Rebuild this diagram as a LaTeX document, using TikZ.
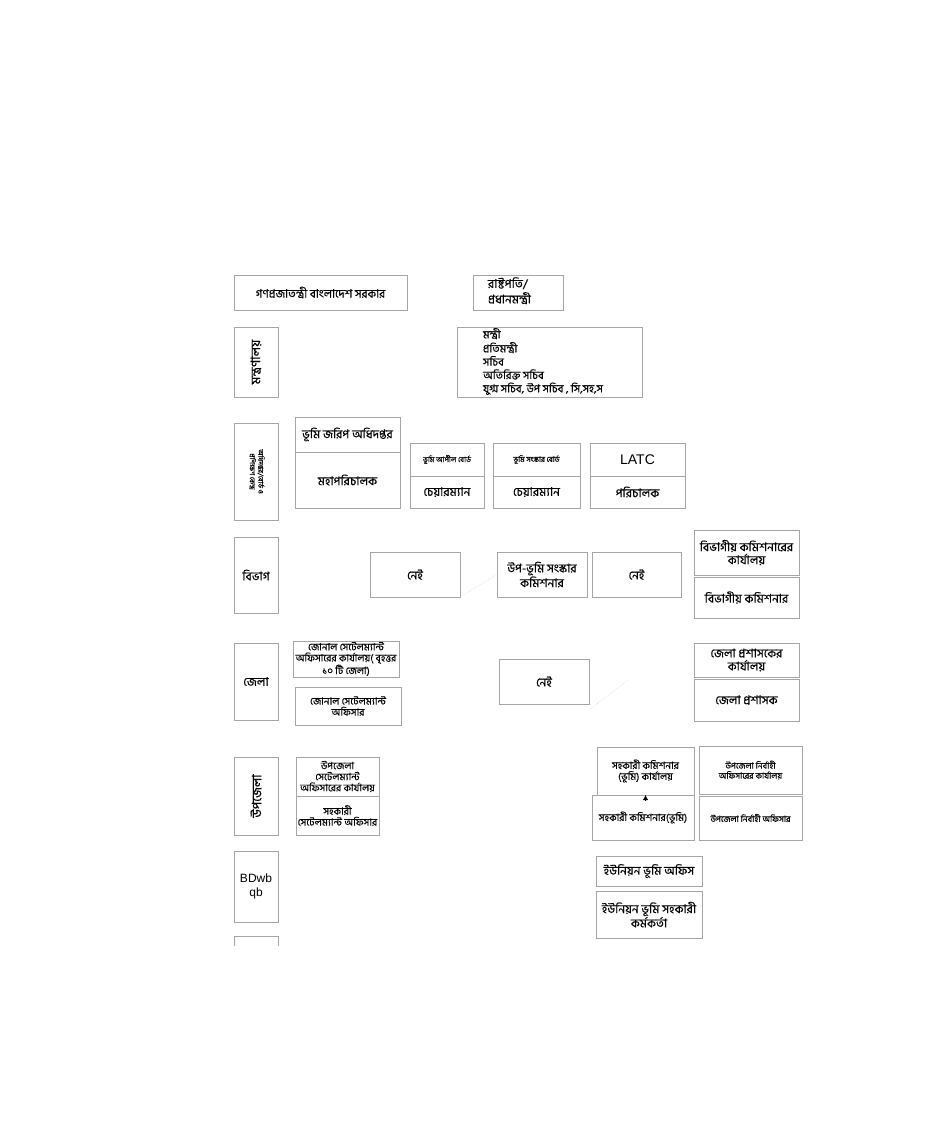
\documentclass[tikz,border=0pt]{standalone}
\usepackage{fontspec}
\usepackage{graphicx}
\usetikzlibrary{arrows.meta}
\setmainfont{Liberation Sans}
\newfontfamily\bn[Script=Bengali,FakeBold=0.4]{Hind Siliguri}
\newcommand{\rb}[7][]{\node[box,#1,minimum width={(#5-#3)*1pt},minimum height={(#6-#4)*1pt}] (#2) at ({(#3+#5)/2},{(#4+#6)/2}) {#7};}
\tikzset{
  box/.style={draw=gray!70, line width=0.7pt, inner sep=1pt, outer sep=0pt, align=center, font=\bn\fontsize{12}{13}\selectfont},
  sm/.style={font=\bn\fontsize{7.5}{9}\selectfont},
  sn/.style={font=\bn\fontsize{8.5}{10}\selectfont},
  md/.style={font=\bn\fontsize{10}{11}\selectfont},
  faint/.style={draw=gray!35, densely dotted, line width=0.5pt}
}
\begin{document}
\begin{tikzpicture}[x=1pt,y=-1pt]
\useasboundingbox (0,0) rectangle (938,1132);
% row 1
\rb[font=\bn\fontsize{11.5}{13}\selectfont]{gov}{234}{275}{407}{310}{গণপ্রজাতন্ত্রী বাংলাদেশ সরকার}
\rb[font=\bn\fontsize{12}{14.5}\selectfont]{pm}{474}{275}{562}{310}{\makebox[88pt][l]{\hspace{14pt}\begin{tabular}{@{}l@{}}রাষ্টপতি/\\প্রধানমন্ত্রী\end{tabular}}}
% row 2
\rb[font=\bn\fontsize{13}{14}\selectfont]{min}{234}{327}{278}{397}{\rotatebox{90}{মন্ত্রণালয়}}
\rb[font=\bn\fontsize{11}{12.2}\selectfont]{minl}{458}{327}{641}{397}{\makebox[183pt][l]{\hspace{25pt}\begin{tabular}{@{}l@{}}মন্ত্রী\\প্রতিমন্ত্রী\\সচিব\\অতিরিক্ত সচিব\\যুগ্ম সচিব, উপ সচিব , সি,সহ,স\end{tabular}}}
% row 3
\rb[font=\bn\fontsize{7}{8}\selectfont]{dept}{234}{423}{278}{520}{\rotatebox{-90}{\begin{tabular}{@{}c@{}}অধিদপ্তর/বোর্ড ও\\প্রশিক্ষণ কেন্দ্র\end{tabular}}}
\rb{jr}{295}{417}{400}{452}{ভূমি জরিপ অধিদপ্তর}
\rb{dg}{295}{452}{400}{508}{মহাপরিচালক}
\rb[sm]{ab}{410}{443}{484}{476}{ভূমি আপীল বোর্ড}
\rb{abc}{410}{476}{484}{508}{চেয়ারম্যান}
\rb[sm]{sb}{493}{443}{580}{476}{ভূমি সংস্কার বোর্ড}
\rb{sbc}{493}{476}{580}{508}{চেয়ারম্যান}
\rb[font=\fontsize{14}{16}\selectfont]{latc}{590}{443}{685}{476}{LATC}
\rb{latcd}{590}{476}{685}{508}{পরিচালক}
% row 4
\rb{div}{234}{537}{278}{613}{বিভাগ}
\rb{n1}{370}{552}{460}{597}{নেই}
\rb{ups}{497}{552}{587}{597}{উপ-ভূমি সংস্কার\\কমিশনার}
\rb{n2}{592}{552}{681}{597}{নেই}
\rb{dco}{694}{530}{799}{575}{বিভাগীয় কমিশনারের\\কার্যালয়}
\rb{dc}{694}{577}{799}{618}{বিভাগীয় কমিশনার}
% row 5
\rb{dist}{234}{643}{278}{720}{জেলা}
\rb[md]{zso}{293}{641}{399}{677}{জোনাল সেটেলম্যান্ট\\অফিসারের কার্যালয়( বৃহত্তর\\১০ টি জেলা)}
\rb[md]{zs}{295}{687}{401}{725}{জোনাল সেটেলম্যান্ট\\অফিসার}
\rb{n3}{499}{659}{589}{704}{নেই}
\rb{dpo}{694}{643}{799}{677}{জেলা প্রশাসকের\\কার্যালয়}
\rb{dp}{694}{679}{799}{721}{জেলা প্রশাসক}
% row 6
\rb[font=\bn\fontsize{13}{14}\selectfont]{upz}{234}{757}{278}{835}{\rotatebox{90}{উপজেলা}}
\rb[md]{uso}{296}{757}{379}{796}{উপজেলা\\সেটেলম্যান্ট\\অফিসারের কার্যালয়}
\rb[md]{aso}{296}{796}{379}{835}{সহকারী\\সেটেলম্যান্ট অফিসার}
\rb[md]{aco}{597}{747}{694}{795}{সহকারী কমিশনার\\(ভূমি) কার্যালয়}
\rb[md]{ac}{592}{795}{694}{840}{সহকারী কমিশনার(ভূমি)}
\rb[sn]{uno}{699}{746}{802}{794}{উপজেলা নির্বাহী\\অফিসারের কার্যালয়}
\rb[sn]{un}{699}{796}{802}{840}{উপজেলা নির্বাহী অফিসার}
% row 7
\rb[font=\fontsize{12}{14}\selectfont]{uni}{234}{851}{278}{922}{BDwb\\qb}
\rb{ulo}{596}{856}{702}{886}{ইউনিয়ন ভূমি অফিস}
\rb{ulao}{596}{891}{702}{938}{ইউনিয়ন ভূমি সহকারী\\কর্মকর্তা}
\coordinate (pbl) at (234,946);
\coordinate (pbr) at (278,946);
\coordinate (ptl) at (234,936);
\coordinate (ptr) at (278,936);
\draw[draw=gray!70, line width=0.7pt] (pbl) -- (ptl) -- (ptr) -- (pbr);
% connectors
\draw[-{Latex[length=5pt,width=5pt]}, line width=0.3pt] ([yshift=-6pt]aco.south) -- (aco.south);
\draw[faint] (n1.south east) -- (ups.west);
\coordinate (f1) at (628,680);
\draw[faint] ([yshift=-6pt]n3.south east) -- (f1);
\end{tikzpicture}
\end{document}
